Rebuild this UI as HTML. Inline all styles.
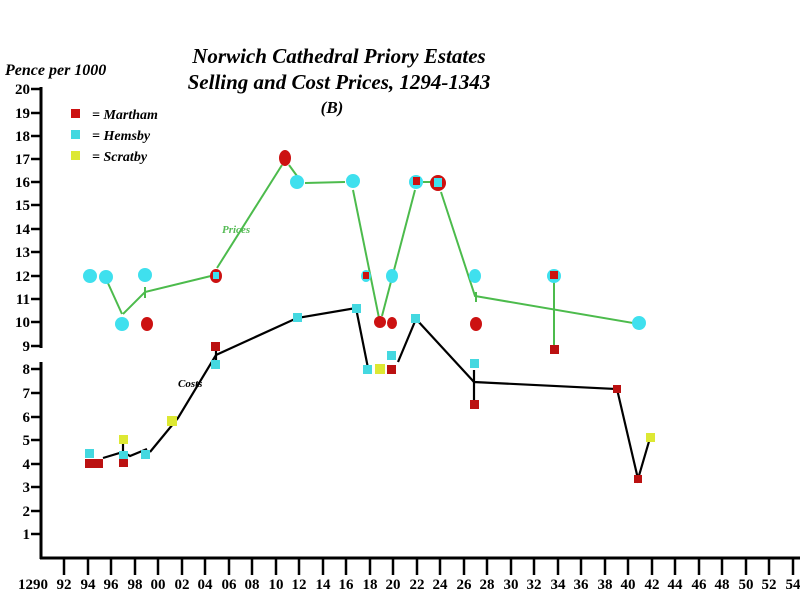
<!DOCTYPE html>
<html><head><meta charset="utf-8"><style>
html,body{margin:0;padding:0;background:#fff}
svg{display:block}
text{font-family:"Liberation Serif",serif;font-weight:bold}
</style></head><body>
<svg width="800" height="600" viewBox="0 0 800 600" xmlns="http://www.w3.org/2000/svg">
<rect width="800" height="600" fill="#fff"/>
<g font-style="italic" text-anchor="middle" font-size="21">
<text x="339" y="63">Norwich Cathedral Priory Estates</text>
<text x="339" y="89">Selling and Cost Prices, 1294-1343</text>
<text x="332" y="113" font-size="17">(B)</text>
</g>
<text x="5" y="75" font-size="16" font-style="italic">Pence per 1000</text>
<g stroke="#000" stroke-width="3">
<line x1="41" y1="87" x2="41" y2="348"/>
<line x1="41" y1="362" x2="41" y2="559"/>
<line x1="40" y1="558" x2="800" y2="558"/>
</g>
<g stroke="#000" stroke-width="2.5">
<line x1="31" y1="89" x2="41" y2="89"/><line x1="31" y1="113" x2="41" y2="113"/>
<line x1="31" y1="136" x2="41" y2="136"/><line x1="31" y1="159" x2="41" y2="159"/>
<line x1="31" y1="182" x2="41" y2="182"/><line x1="31" y1="205" x2="41" y2="205"/>
<line x1="31" y1="229" x2="41" y2="229"/><line x1="31" y1="252" x2="41" y2="252"/>
<line x1="31" y1="276" x2="41" y2="276"/><line x1="31" y1="299" x2="41" y2="299"/>
<line x1="31" y1="322" x2="41" y2="322"/><line x1="31" y1="346" x2="41" y2="346"/>
<line x1="31" y1="369" x2="41" y2="369"/><line x1="31" y1="393" x2="41" y2="393"/>
<line x1="31" y1="417" x2="41" y2="417"/><line x1="31" y1="440" x2="41" y2="440"/>
<line x1="31" y1="464" x2="41" y2="464"/><line x1="31" y1="487" x2="41" y2="487"/>
<line x1="31" y1="511" x2="41" y2="511"/><line x1="31" y1="534" x2="41" y2="534"/>
</g>
<g font-size="15" text-anchor="end">
<text x="30" y="94">20</text><text x="30" y="118">19</text><text x="30" y="141">18</text>
<text x="30" y="164">17</text><text x="30" y="187">16</text><text x="30" y="210">15</text>
<text x="30" y="234">14</text><text x="30" y="257">13</text><text x="30" y="281">12</text>
<text x="30" y="304">11</text><text x="30" y="327">10</text><text x="30" y="351">9</text>
<text x="30" y="374">8</text><text x="30" y="398">7</text><text x="30" y="422">6</text>
<text x="30" y="445">5</text><text x="30" y="469">4</text><text x="30" y="492">3</text>
<text x="30" y="516">2</text><text x="30" y="539">1</text>
</g>
<g stroke="#000" stroke-width="2.5">
<line x1="64" y1="558" x2="64" y2="575"/><line x1="88" y1="558" x2="88" y2="575"/>
<line x1="111" y1="558" x2="111" y2="575"/><line x1="135" y1="558" x2="135" y2="575"/>
<line x1="158" y1="558" x2="158" y2="575"/><line x1="182" y1="558" x2="182" y2="575"/>
<line x1="205" y1="558" x2="205" y2="575"/><line x1="229" y1="558" x2="229" y2="575"/>
<line x1="252" y1="558" x2="252" y2="575"/><line x1="276" y1="558" x2="276" y2="575"/>
<line x1="299" y1="558" x2="299" y2="575"/><line x1="323" y1="558" x2="323" y2="575"/>
<line x1="346" y1="558" x2="346" y2="575"/><line x1="370" y1="558" x2="370" y2="575"/>
<line x1="393" y1="558" x2="393" y2="575"/><line x1="417" y1="558" x2="417" y2="575"/>
<line x1="440" y1="558" x2="440" y2="575"/><line x1="464" y1="558" x2="464" y2="575"/>
<line x1="487" y1="558" x2="487" y2="575"/><line x1="511" y1="558" x2="511" y2="575"/>
<line x1="534" y1="558" x2="534" y2="575"/><line x1="558" y1="558" x2="558" y2="575"/>
<line x1="581" y1="558" x2="581" y2="575"/><line x1="605" y1="558" x2="605" y2="575"/>
<line x1="628" y1="558" x2="628" y2="575"/><line x1="652" y1="558" x2="652" y2="575"/>
<line x1="675" y1="558" x2="675" y2="575"/><line x1="699" y1="558" x2="699" y2="575"/>
<line x1="722" y1="558" x2="722" y2="575"/><line x1="746" y1="558" x2="746" y2="575"/>
<line x1="769" y1="558" x2="769" y2="575"/><line x1="793" y1="558" x2="793" y2="575"/>
</g>
<g font-size="15" text-anchor="middle">
<text x="33" y="589">1290</text><text x="64" y="589">92</text><text x="88" y="589">94</text>
<text x="111" y="589">96</text><text x="135" y="589">98</text><text x="158" y="589">00</text>
<text x="182" y="589">02</text><text x="205" y="589">04</text><text x="229" y="589">06</text>
<text x="252" y="589">08</text><text x="276" y="589">10</text><text x="299" y="589">12</text>
<text x="323" y="589">14</text><text x="346" y="589">16</text><text x="370" y="589">18</text>
<text x="393" y="589">20</text><text x="417" y="589">22</text><text x="440" y="589">24</text>
<text x="464" y="589">26</text><text x="487" y="589">28</text><text x="511" y="589">30</text>
<text x="534" y="589">32</text><text x="558" y="589">34</text><text x="581" y="589">36</text>
<text x="605" y="589">38</text><text x="628" y="589">40</text><text x="652" y="589">42</text>
<text x="675" y="589">44</text><text x="699" y="589">46</text><text x="722" y="589">48</text>
<text x="746" y="589">50</text><text x="769" y="589">52</text><text x="793" y="589">54</text>
</g>
<rect x="71" y="109" width="9" height="9" fill="#cc1111"/>
<rect x="71" y="130" width="9" height="9" fill="#44d8e0"/>
<rect x="71" y="151" width="9" height="9" fill="#dde833"/>
<g font-size="14" font-style="italic">
<text x="92" y="119">= Martham</text><text x="92" y="140">= Hemsby</text><text x="92" y="161">= Scratby</text>
</g>
<g stroke="#4cbb4c" stroke-width="2" fill="none">
<polyline points="107,281 122,314"/>
<polyline points="123,314 145,292 215,275"/>
<polyline points="217,268 282,165"/>
<polyline points="289,165 297,176"/>
<polyline points="305,183 345,182"/>
<polyline points="353,190 379,318"/>
<polyline points="382,316 415,190"/>
<polyline points="423,182 434,182"/>
<polyline points="441,192 475,296 639,324"/>
<line x1="554" y1="282" x2="554" y2="346"/>
<line x1="145" y1="287" x2="145" y2="298"/>
<line x1="476" y1="292" x2="476" y2="302"/>
</g>
<text x="222" y="233" font-size="11" font-style="italic" fill="#55bb55">Prices</text>
<g stroke="#000" stroke-width="2.2" fill="none">
<polyline points="103,458 123,452 130,456 147,449"/>
<line x1="123" y1="444" x2="123" y2="456"/>
<polyline points="150,452 178,418 216,355 297,318 356,308 368,368"/>
<line x1="216" y1="350" x2="216" y2="360"/>
<polyline points="398,362 416,319 474,382 617,389 638,479 650,438"/>
<line x1="474" y1="370" x2="474" y2="400"/>
</g>
<text x="178" y="387" font-size="11" font-style="italic">Costs</text>
<g fill="#3fe0ee">
<ellipse cx="90" cy="276" rx="7" ry="7"/><ellipse cx="106" cy="277" rx="7" ry="7"/>
<ellipse cx="122" cy="324" rx="7" ry="7"/><ellipse cx="145" cy="275" rx="7" ry="7"/>
<ellipse cx="297" cy="182" rx="7" ry="7"/><ellipse cx="353" cy="181" rx="7" ry="7"/>
<ellipse cx="366" cy="276" rx="5" ry="6"/><ellipse cx="392" cy="276" rx="6" ry="7"/>
<ellipse cx="416" cy="182" rx="7" ry="7"/><ellipse cx="475" cy="276" rx="6" ry="7"/>
<ellipse cx="554" cy="276" rx="7" ry="7"/><ellipse cx="639" cy="323" rx="7" ry="7"/>
</g>
<g fill="#cc1111">
<ellipse cx="147" cy="324" rx="6" ry="7"/><ellipse cx="216" cy="276" rx="6" ry="7"/>
<ellipse cx="285" cy="158" rx="6" ry="8"/><ellipse cx="380" cy="322" rx="6" ry="6"/>
<ellipse cx="392" cy="323" rx="5" ry="6"/><ellipse cx="438" cy="183" rx="8" ry="8"/>
<ellipse cx="476" cy="324" rx="6" ry="7"/>
<rect x="363" y="272" width="6" height="7"/><rect x="413" y="177" width="7" height="8"/>
<rect x="550" y="271" width="8" height="8"/>
</g>
<g fill="#3fe0ee">
<rect x="213" y="272" width="6" height="7"/><rect x="434" y="178" width="8" height="9"/>
</g>
<g fill="#44d8e0">
<rect x="85" y="449" width="9" height="9"/><rect x="119" y="451" width="9" height="9"/>
<rect x="141" y="450" width="9" height="9"/><rect x="211" y="360" width="9" height="9"/>
<rect x="293" y="313" width="9" height="9"/><rect x="352" y="304" width="9" height="9"/>
<rect x="363" y="365" width="9" height="9"/><rect x="387" y="351" width="9" height="9"/>
<rect x="411" y="314" width="9" height="9"/><rect x="470" y="359" width="9" height="9"/>
</g>
<g fill="#bb1111">
<rect x="85" y="459" width="9" height="9"/><rect x="94" y="459" width="9" height="9"/>
<rect x="119" y="459" width="9" height="8"/><rect x="211" y="342" width="9" height="9"/>
<rect x="387" y="365" width="9" height="9"/><rect x="470" y="400" width="9" height="9"/>
<rect x="550" y="345" width="9" height="9"/><rect x="613" y="385" width="8" height="8"/>
<rect x="634" y="475" width="8" height="8"/>
</g>
<g fill="#dde833">
<rect x="119" y="435" width="9" height="9"/><rect x="167" y="416" width="10" height="10"/>
<rect x="375" y="364" width="10" height="10"/><rect x="646" y="433" width="9" height="9"/>
</g>
</svg>
</body></html>
